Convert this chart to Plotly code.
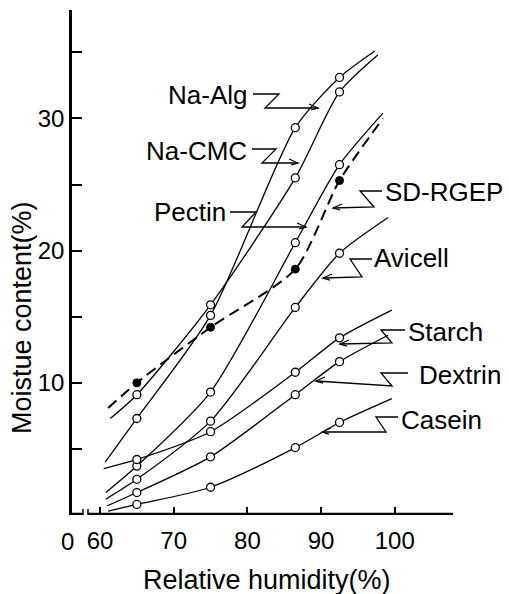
import plotly.graph_objects as go

# ---------------- data ----------------
rh_points = [65, 75, 86.5, 92.5]

na_alg_x = [60.7, 65, 75, 86.5, 92.5, 97.3]
na_alg_y = [4.0, 7.3, 15.1, 29.3, 33.1, 35.1]

na_cmc_x = [61.4, 65, 75, 86.5, 92.5, 97.7]
na_cmc_y = [7.3, 9.1, 15.9, 25.5, 32.0, 34.8]

pectin_x = [60.8, 65, 75, 86.5, 92.5, 98.4]
pectin_y = [1.7, 3.7, 9.3, 20.6, 26.5, 30.4]

avicell_x = [60.8, 65, 75, 86.5, 92.5, 99.1]
avicell_y = [1.2, 2.7, 7.1, 15.7, 19.8, 22.5]

starch_x = [60.5, 65, 75, 86.5, 92.5, 99.6]
starch_y = [3.5, 4.2, 6.3, 10.8, 13.4, 15.5]

dextrin_x = [61.0, 65, 75, 86.5, 92.5, 99.1]
dextrin_y = [0.7, 1.7, 4.4, 9.1, 11.6, 13.6]

casein_x = [61.1, 65, 75, 86.5, 92.5, 99.6]
casein_y = [0.3, 0.8, 2.1, 5.1, 7.0, 8.8]

sdrgep_x = [61.1, 65, 75, 86.5, 92.5, 98.4]
sdrgep_y = [8.1, 10.0, 14.2, 18.6, 25.3, 30.0]

x_tick_vals = [60, 70, 80, 90, 100]
x_tick_text = ["60", "70", "80", "90", "100"]
y_tick_vals = [5, 10, 15, 20, 25, 30, 35]
y_tick_text = ["", "10", "", "20", "", "30", ""]

solid_series = [
    ("Na-Alg", na_alg_x, na_alg_y),
    ("Na-CMC", na_cmc_x, na_cmc_y),
    ("Pectin", pectin_x, pectin_y),
    ("Avicell", avicell_x, avicell_y),
    ("Starch", starch_x, starch_y),
    ("Dextrin", dextrin_x, dextrin_y),
    ("Casein", casein_x, casein_y),
]

# ---------------- layout geometry ----------------
W, H = 509, 594
ML, MR, MT, MB = 72, 56, 10, 79
XR = [56.2, 107.9]
YR = [0, 38.2]
PW, PH = W - ML - MR, H - MT - MB

def to_data(xp, yp):
    x = XR[0] + (xp - ML) * (XR[1] - XR[0]) / PW
    y = YR[0] + (MT + PH - yp) * (YR[1] - YR[0]) / PH
    return x, y

def to_paper(xp, yp):
    return (xp - ML) / PW, (MT + PH - yp) / PH

def path_px(points):
    parts = []
    for i, (a, b) in enumerate(points):
        x, y = to_data(a, b)
        parts.append(("M" if i == 0 else "L") + f"{x:.4f},{y:.4f}")
    return " ".join(parts)

FONT = "Liberation Sans, Arial, sans-serif"

fig = go.Figure()

for name, xs, ys in solid_series:
    fig.add_trace(go.Scatter(x=xs, y=ys, mode="lines", name=name,
                             line=dict(color="black", width=1.3, shape="spline", smoothing=0.7),
                             hoverinfo="skip", showlegend=False))

fig.add_trace(go.Scatter(x=sdrgep_x, y=sdrgep_y, mode="lines", name="SD-RGEP",
                         line=dict(color="black", width=2, dash="11px,6px", shape="spline", smoothing=0.7),
                         showlegend=False))

# open circle markers
for name, xs, ys in solid_series:
    fig.add_trace(go.Scatter(x=rh_points, y=ys[1:5], mode="markers",
                             marker=dict(symbol="circle", size=8, color="white",
                                         line=dict(color="black", width=1.3)),
                             showlegend=False))
fig.add_trace(go.Scatter(x=rh_points, y=sdrgep_y[1:5], mode="markers",
                         marker=dict(symbol="circle", size=8, color="black",
                                     line=dict(color="black", width=1)),
                         showlegend=False))

# ---------------- label leaders (pixel geometry) ----------------
leaders = [
    ("Na-Alg", (249, 95), "right", [(253, 94), (279, 94), (265, 108), (318, 108)], 1),
    ("Na-CMC", (249, 151), "right", [(252, 149), (276, 149), (262, 163), (298, 163)], 1),
    ("Pectin", (228, 212), "right", [(230, 212), (256, 212), (242, 227), (306, 227)], 1),
    ("SD-RGEP", (383, 192), "left", [(382, 191), (360, 191), (374, 207), (333, 208)], -1),
    ("Avicell", (372, 258), "left", [(372, 259), (350, 259), (362, 277), (323, 278)], -1),
    ("Starch", (406, 332), "left", [(405, 330), (381, 330), (392, 343), (340, 344)], -1),
    ("Dextrin", (417, 375), "left", [(408, 373), (381, 373), (392, 386), (316, 381)], -1),
    ("Casein", (399, 420), "left", [(398, 417), (376, 417), (386, 432), (322, 432)], -1),
]

shapes = []
annotations = []
for label, (tx, ty), anchor, pts, d in leaders:
    shapes.append(dict(type="path", path=path_px(pts), xref="x", yref="y",
                       line=dict(color="black", width=1.3)))
    tip = pts[-1]
    barb = [(tip[0] - 9 * d, tip[1] - 4), tip, (tip[0] - 7 * d, tip[1] + 2)]
    shapes.append(dict(type="path", path=path_px(barb), xref="x", yref="y",
                       line=dict(color="black", width=1.3)))
    px_, py_ = to_paper(tx, ty)
    annotations.append(dict(x=px_, y=py_, xref="paper", yref="paper", text=label, showarrow=False,
                            xanchor=anchor, yanchor="middle",
                            font=dict(family=FONT, size=26, color="black")))

# x axis line with break
for seg in ([(ML, 514), (83, 514)], [(88, 514), (453, 514)]):
    shapes.append(dict(type="path", path=path_px(seg), xref="x", yref="y",
                       line=dict(color="black", width=2.5)))
for bx in (83, 88):
    shapes.append(dict(type="path", path=path_px([(bx, 509), (bx, 519)]), xref="x", yref="y",
                       line=dict(color="black", width=1.5)))

# "0" at origin
zx, zy = to_paper(67, 541)
annotations.append(dict(x=zx, y=zy, xref="paper", yref="paper", text="0", showarrow=False,
                        xanchor="center", yanchor="middle",
                        font=dict(family=FONT, size=24, color="black")))
# axis titles
tx, ty = to_paper(267, 580)
annotations.append(dict(x=tx, y=ty, xref="paper", yref="paper", text="Relative humidity(%)", showarrow=False,
                        xanchor="center", yanchor="middle",
                        font=dict(family=FONT, size=27, color="black")))
tx, ty = to_paper(22, 318)
annotations.append(dict(x=tx, y=ty, xref="paper", yref="paper", text="Moistue content(%)", showarrow=False,
                        textangle=-90, xanchor="center", yanchor="middle",
                        font=dict(family=FONT, size=27, color="black")))

fig.update_layout(
    width=W, height=H,
    margin=dict(l=ML, r=MR, t=MT, b=MB),
    paper_bgcolor="white", plot_bgcolor="white",
    shapes=shapes, annotations=annotations,
    font=dict(family=FONT, color="black"),
    xaxis=dict(range=XR, showgrid=False, zeroline=False, showline=False,
               tickmode="array", tickvals=x_tick_vals, ticktext=x_tick_text,
               ticks="inside", ticklen=8, tickwidth=1.5, tickcolor="black",
               ticklabelstandoff=9,
               tickfont=dict(family=FONT, size=24, color="black")),
    yaxis=dict(range=YR, showgrid=False, zeroline=False, showline=True,
               linecolor="black", linewidth=2.5,
               tickmode="array", tickvals=y_tick_vals, ticktext=y_tick_text,
               ticks="inside", ticklen=10, tickwidth=1.5, tickcolor="black",
               tickfont=dict(family=FONT, size=24, color="black")),
)

fig.write_html("out.html")
